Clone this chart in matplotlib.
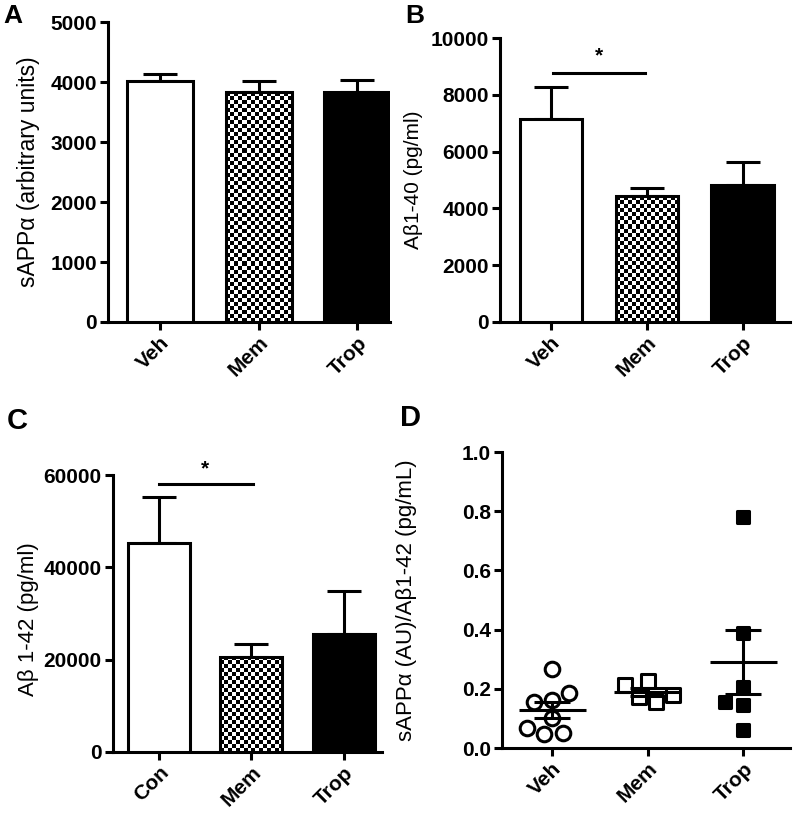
import matplotlib
matplotlib.use('Agg')
import matplotlib.pyplot as plt
import numpy as np

plt.rcParams['font.family'] = ['Liberation Sans', 'DejaVu Sans']
plt.rcParams['font.weight'] = 'bold'

# data
groups_ab = ['Veh', 'Mem', 'Trop']
groups_c = ['Con', 'Mem', 'Trop']

sapp_mean = [4020, 3830, 3840]
sapp_err = [115, 180, 200]

ab40_mean = [7150, 4430, 4840]
ab40_err = [1110, 290, 800]

ab42_mean = [45300, 20600, 25600]
ab42_err = [9900, 2700, 9300]

ratio_veh = [0.267, 0.162, 0.155, 0.186, 0.101, 0.047, 0.051, 0.068]
ratio_mem = [0.226, 0.173, 0.156, 0.179, 0.213]
ratio_trop = [0.781, 0.388, 0.145, 0.061, 0.156, 0.207]

LW = 2.2
fig = plt.figure(figsize=(8, 8.25), dpi=100)


def style(ax):
    for s in ['top', 'right']:
        ax.spines[s].set_visible(False)
    for s in ['left', 'bottom']:
        ax.spines[s].set_linewidth(LW)
    ax.tick_params(width=LW, length=6, labelsize=15, pad=2)


def checker(ax, bar):
    x0, y0 = bar.get_x(), bar.get_y()
    x1, y1 = x0 + bar.get_width(), y0 + bar.get_height()
    (px0, py0), (px1, py1) = ax.transData.transform([[x0, y0], [x1, y1]])
    nx = max(int(round((px1 - px0) / 4.0)), 1)
    ny = max(int(round((py1 - py0) / 4.0)), 1)
    img = np.indices((ny, nx)).sum(axis=0) % 2
    im = ax.imshow(img, cmap='gray', extent=(x0, x1, y0, y1), origin='lower',
                   interpolation='nearest', aspect='auto', zorder=2.9)
    im.set_clip_path(bar)


def bar_panel(rect, means, errs, labels, ymax, step, xlim, width, ylabel, lab_xy, lab_size):
    ax = fig.add_axes(rect)
    x = np.arange(len(means))
    ax.set_xlim(*xlim)
    ax.set_ylim(0, ymax)
    bars = ax.bar(x, means, width=width, color=['white', 'none', 'black'],
                  edgecolor='black', linewidth=LW, zorder=3)
    ax.errorbar(x, means, yerr=[np.zeros(len(errs)), errs], fmt='none', ecolor='black',
                elinewidth=LW, capsize=12, capthick=LW, zorder=2)
    ax.set_xlim(*xlim)
    ax.set_ylim(0, ymax)
    checker(ax, bars[1])
    ax.set_xlim(*xlim)
    ax.set_ylim(0, ymax)
    ax.set_yticks(np.arange(0, ymax + 1, step))
    ax.set_xticks(x)
    ax.set_xticklabels(labels, rotation=45, ha='right', va='top', rotation_mode='anchor')
    ax.set_ylabel(ylabel, fontsize=lab_size, fontweight='normal')
    ax.yaxis.set_label_coords(*lab_xy)
    style(ax)
    return ax


axA = bar_panel([0.135, 0.6097, 0.3525, 0.3636], sapp_mean, sapp_err, groups_ab,
                5000, 1000, (-0.528, 2.335), 0.67, 'sAPPα (arbitrary units)', (-0.24, 0.5), 16.5)

axB = bar_panel([0.625, 0.6097, 0.3625, 0.3442], ab40_mean, ab40_err, groups_ab,
                10000, 2000, (-0.533, 2.496), 0.65, 'Aβ1-40 (pg/ml)', (-0.265, 0.5), 15)
axB.plot([0.02, 0.98], [8770, 8770], color='black', lw=LW, clip_on=False)
axB.text(0.5, 9050, '*', ha='center', va='bottom', fontsize=15)

axC = bar_panel([0.141, 0.0885, 0.3363, 0.3357], ab42_mean, ab42_err, groups_c,
                60000, 20000, (-0.497, 2.41), 0.67, 'Aβ 1-42 (pg/ml)', (-0.275, 0.48), 16)
axC.plot([0.0, 1.02], [58050, 58050], color='black', lw=LW, clip_on=False)
axC.text(0.5, 59300, '*', ha='center', va='bottom', fontsize=15)

# panel D: scatter with mean and SEM
axD = fig.add_axes([0.6275, 0.0933, 0.36, 0.3588])
axD.set_xlim(-0.524, 2.49)
axD.set_ylim(0, 1.0)
xs_px = axD.transData.transform([[1, 0]])[0][0] - axD.transData.transform([[0, 0]])[0][0]
ys_px = axD.transData.transform([[0, 1]])[0][1] - axD.transData.transform([[0, 0]])[0][1]


def swarm(vals, d=18.0):
    cands = [0.0]
    for k in np.arange(0.5, 80, 0.5):
        cands += [-k, k]
    placed = []
    offs = []
    for v in vals:
        y = v * ys_px
        for c in cands:
            if all((c - px) ** 2 + (y - py) ** 2 >= d * d for px, py in placed):
                break
        placed.append((c, y))
        offs.append(c / xs_px)
    return np.array(offs)


groups_d = [ratio_veh, ratio_mem, ratio_trop]
markers = [dict(marker='o', s=110, facecolor='white'),
           dict(marker='s', s=95, facecolor='white'),
           dict(marker='s', s=85, facecolor='black')]
for i, (vals, mk) in enumerate(zip(groups_d, markers)):
    vals = np.array(vals)
    offs = swarm(vals)
    axD.scatter(i + offs, vals, marker=mk['marker'], s=mk['s'], facecolors=mk['facecolor'],
                edgecolors='black', linewidths=LW, zorder=3)
    m = vals.mean()
    sem = vals.std(ddof=1) / np.sqrt(len(vals))
    axD.hlines(m, i - 0.35, i + 0.35, color='black', lw=LW, zorder=4)
    axD.errorbar([i], [m], yerr=[[sem], [sem]], fmt='none', ecolor='black',
                 elinewidth=LW, capsize=13, capthick=LW, zorder=4)

axD.set_yticks(np.arange(0, 1.01, 0.2))
axD.set_yticklabels(['%.1f' % t for t in np.arange(0, 1.01, 0.2)])
axD.set_xticks(range(3))
axD.set_xticklabels(groups_ab, rotation=45, ha='right', va='top', rotation_mode='anchor')
axD.set_ylabel('sAPPα (AU)/Aβ1-42 (pg/mL)', fontsize=16, fontweight='normal')
axD.yaxis.set_label_coords(-0.295, 0.5)
style(axD)

for x, y, s, fs in [(0.004, 0.995, 'A', 19), (0.506, 0.995, 'B', 19),
                    (0.008, 0.507, 'C', 21), (0.5, 0.51, 'D', 21)]:
    fig.text(x, y, s, fontsize=fs, weight='bold', ha='left', va='top')

plt.savefig('out.png', dpi=100)
